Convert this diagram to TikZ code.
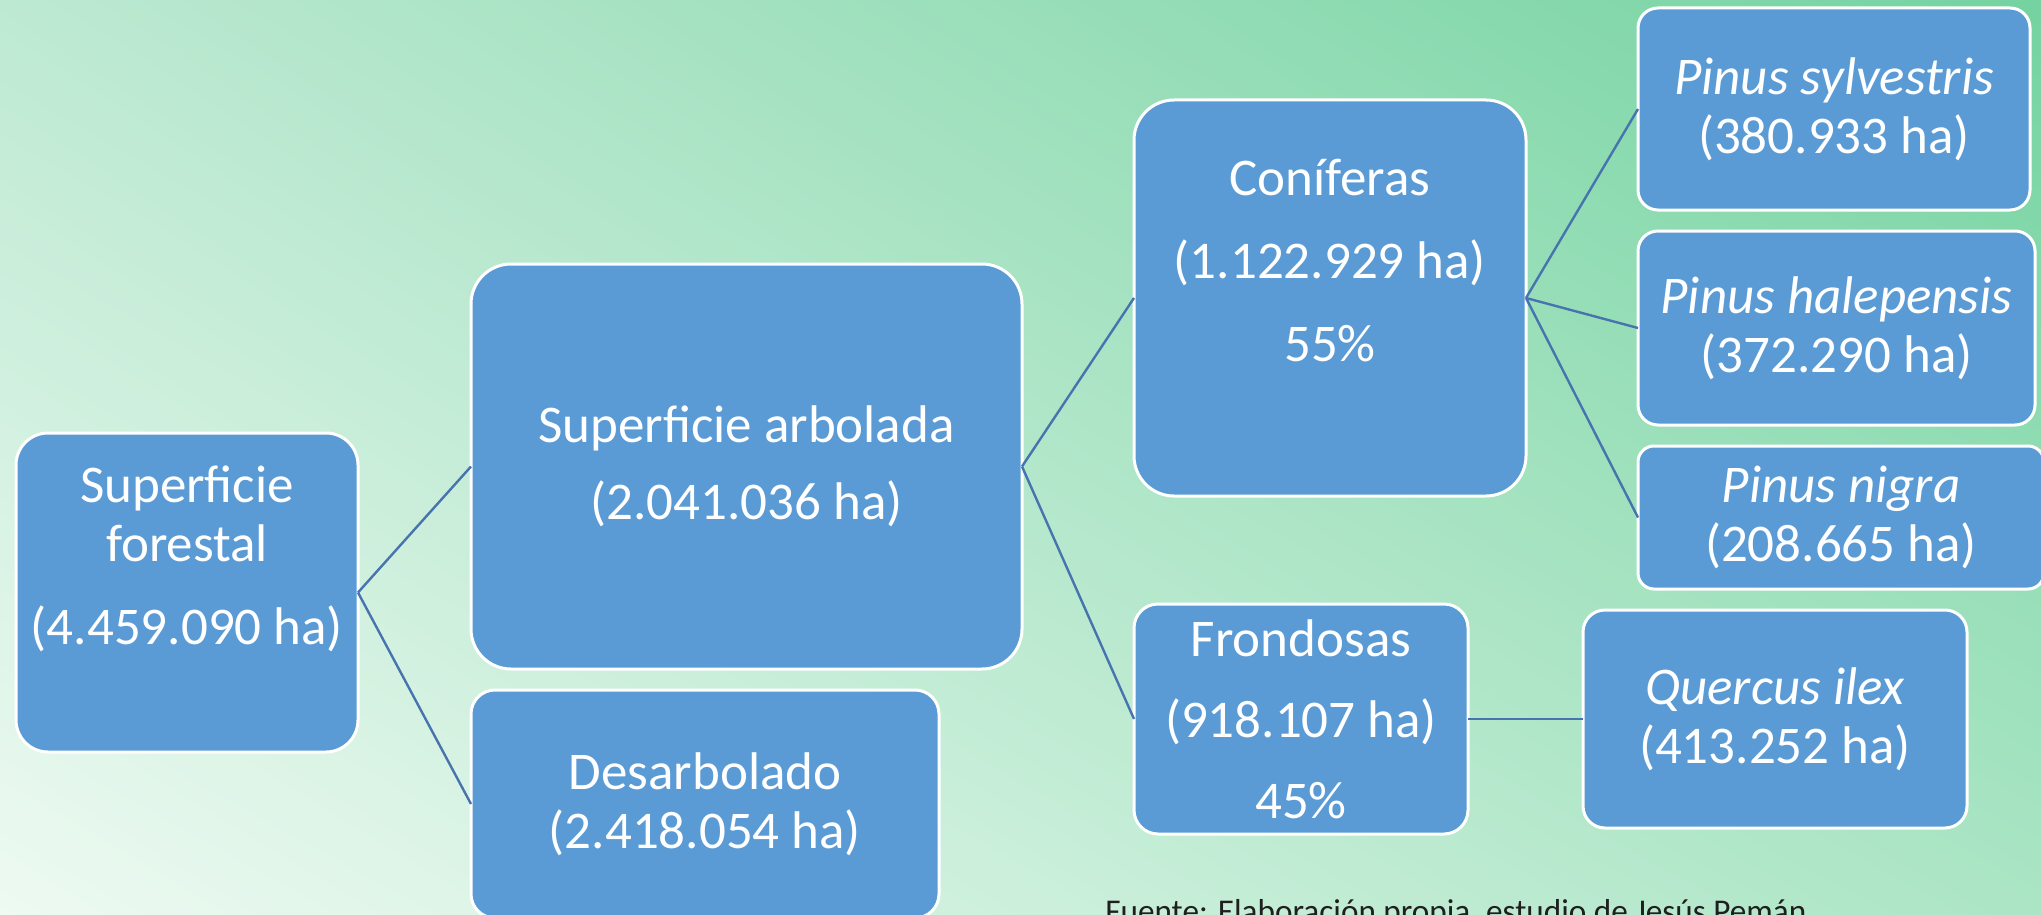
\documentclass[tikz,border=0pt]{standalone}
\usepackage{fontspec}
\setmainfont{Carlito}
\usetikzlibrary{positioning,shadings}
\definecolor{boxblue}{HTML}{5B9BD5}
\definecolor{linkblue}{HTML}{4774AE}
\definecolor{bgtl}{HTML}{BDE9D2}
\definecolor{bgtr}{HTML}{74D3A0}
\definecolor{bgbl}{HTML}{EEFAF2}
\definecolor{bgbr}{HTML}{ABE5C5}

\begin{document}
\begin{tikzpicture}
[x=0.5pt,y=-0.5pt,
box/.style={draw=white,line width=1.5pt,fill=boxblue,text=white,align=center,
  inner sep=0pt,outer sep=0pt,font=\fontsize{26.5}{29.5}\selectfont},
link/.style={draw=linkblue,line width=1.2pt}]
\useasboundingbox (0,0) rectangle (2041,915);
\clip (0,0) rectangle (2041,915);
\shade[upper left=bgtl,upper right=bgtr,lower left=bgbl,lower right=bgbr] (0,0) rectangle (2041,915);
% left column
\node[box,minimum width=171pt,minimum height=159.5pt,rounded corners=16pt](forestal) at (187,592.5)
  {Superficie\\forestal\\[12pt](4.459.090 ha)\\[8pt]\mbox{}};
\node[box,minimum width=275.5pt,minimum height=202.5pt,rounded corners=20pt](arbolada) at (746.5,466.5)
  {Superficie arbolada\\[9pt](2.041.036 ha)};
\node[box,minimum width=234pt,minimum height=114pt,rounded corners=12pt,
  below=10.5pt of arbolada.south west,anchor=north west](desarbolado)
  {Desarbolado\\(2.418.054 ha)};
% second level
\node[box,minimum width=196pt,minimum height=198pt,rounded corners=20pt](coniferas) at (1330,298)
  {Coníferas\\[12pt](1.122.929 ha)\\[12pt]55\%\\[8pt]\mbox{}};
\node[box,minimum width=167pt,minimum height=115pt,rounded corners=12pt,
  below=54pt of coniferas.south west,anchor=north west](frondosas)
  {Frondosas\\[11pt](918.107 ha)\\[11pt]45\%};
% species
\node[box,minimum width=196pt,minimum height=101pt,rounded corners=10pt](sylvestris) at (1834,109)
  {\textit{Pinus sylvestris}\\(380.933 ha)};
\node[box,minimum width=198.5pt,minimum height=97pt,rounded corners=10pt,
  below=10.5pt of sylvestris.south west,anchor=north west](halepensis)
  {\textit{Pinus halepensis}\\(372.290 ha)};
\node[box,minimum width=203pt,minimum height=71.5pt,rounded corners=8pt,
  below=10.5pt of halepensis.south west,anchor=north west](nigra)
  {\textit{Pinus nigra}\\(208.665 ha)};
\node[box,minimum width=192pt,minimum height=109pt,rounded corners=11pt,
  right=57.5pt of frondosas](quercus)
  {\textit{Quercus ilex}\\(413.252 ha)};
% links
\path[link] (forestal.east) edge (arbolada.west)
  (forestal.east) edge (desarbolado.west)
  (arbolada.east) edge (coniferas.west)
  (arbolada.east) edge (frondosas.west)
  (coniferas.east) edge (sylvestris.west)
  (coniferas.east) edge (halepensis.west)
  (coniferas.east) edge (nigra.west)
  (frondosas.east) edge (quercus.west);
\node[anchor=base west,inner sep=0pt,text=black!88,font=\fontsize{16.6}{20}\selectfont](fuente) at (1105,922)
  {Fuente: Elaboración propia, estudio de Jesús Pemán};
\end{tikzpicture}
\end{document}
